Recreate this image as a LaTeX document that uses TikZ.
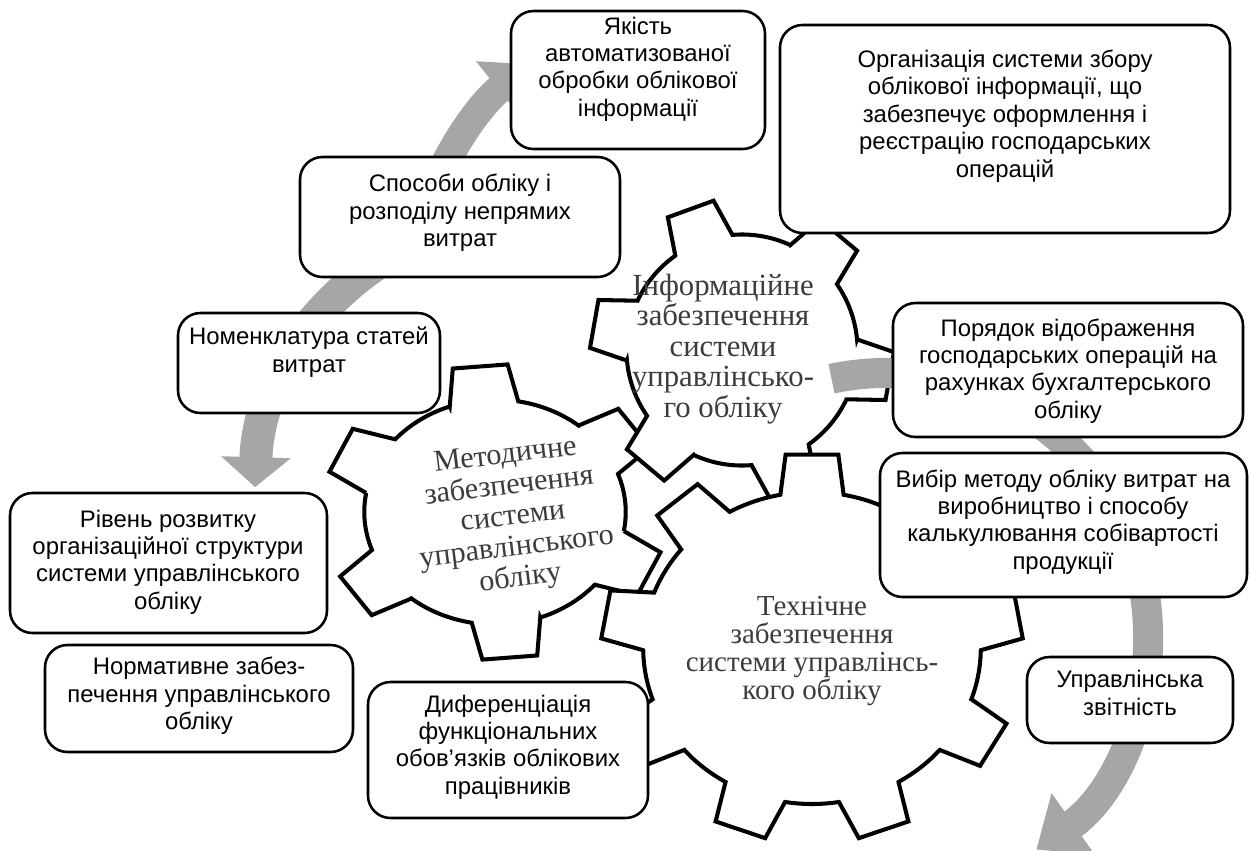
\documentclass[tikz,border=0pt]{standalone}
\usepackage{fontspec}
\setmainfont{Liberation Serif}
\newfontfamily\arialf{Liberation Sans}
\usetikzlibrary{arrows.meta,fit}
\definecolor{arrowgray}{RGB}{166,166,166}
\definecolor{geartextc}{RGB}{60,60,60}
\lineskiplimit=-100pt

% cx, cy, rx, ry, N, phase, root radius, base half-width, tip half-width
\newcommand{\mygear}[9]{%
\begin{scope}[shift={(#1,#2)},xscale=#3,yscale=#4]
\pgfmathsetmacro\gsb{sqrt((#7)^2-(#8)^2)}
\pgfmathsetmacro\gdl{asin((#8)/(#7))}
\pgfmathsetmacro\gst{sqrt(1-(#9)^2)}
\pgfmathsetmacro\gstep{360/#5}
\draw[gear] ({\gsb*cos(#6)+(#8)*sin(#6)},{\gsb*sin(#6)-(#8)*cos(#6)})
 \foreach \k [evaluate=\k as \a using {#6+(\k-1)*\gstep}] in {1,...,#5}{
   -- ({\gsb*cos(\a)+(#8)*sin(\a)},{\gsb*sin(\a)-(#8)*cos(\a)})
   -- ({\gst*cos(\a)+(#9)*sin(\a)},{\gst*sin(\a)-(#9)*cos(\a)})
   -- ({\gst*cos(\a)-(#9)*sin(\a)},{\gst*sin(\a)+(#9)*cos(\a)})
   -- ({\gsb*cos(\a)-(#8)*sin(\a)},{\gsb*sin(\a)+(#8)*cos(\a)})
   arc[start angle={\a+\gdl},end angle={\a+\gstep-\gdl},radius=#7]
 } -- cycle;
\end{scope}}

\begin{document}
\begin{tikzpicture}[x=0.02cm,y=-0.02cm,
  box/.style={draw=black, line width=1.45pt, rounded corners=0.45cm, fill=white, inner sep=0pt},
  boxtext/.style={font=\arialf\fontsize{13.6}{15.6}\selectfont, align=center, inner sep=0pt},
  gear/.style={draw=black, line width=2.3pt, fill=white, line join=miter},
  geartext/.style={align=center, inner sep=0pt, text=geartextc},
  garrow/.style={draw=arrowgray, line cap=butt}]

\useasboundingbox (0,0) rectangle (1249,850);
\fill[white] (0,0) rectangle (1249,850);

% centres of the circular arrows
\coordinate (ctop) at (745,330);
\coordinate (cleft) at (535,495);
\coordinate (cright) at (886,635);

% arrow round the upper gear
\draw[garrow, line width=0.58cm, -{Triangle[length=0.8cm,width=1.4cm]}]
  (ctop) ++(195:342) arc[start angle=195, end angle=231, radius=342];
% arrow round the left gear
\draw[garrow, line width=0.66cm, -{Triangle[length=0.6cm,width=1.36cm]}]
  (cleft) ++(250:280) arc[start angle=250, end angle=181.6, radius=280];

% gears
\mygear{495}{512}{172}{148}{6}{-95}{0.76}{0.2}{0.16}
\node[geartext, rotate=7, font=\fontsize{17.2}{17.6}\selectfont] (gm) at (513,518)
  {Методичне\\забезпечення\\системи\\управлінського\\обліку};

\mygear{742}{350}{152}{152}{6}{-110}{0.76}{0.2}{0.16}
\node[geartext, font=\fontsize{17.5}{17.4}\selectfont] (gi) at (723,349)
  {Інформаційне\\забезпечення\\системи\\управлінсько-\\го обліку};

\mygear{812}{648}{211}{195}{9}{-90}{0.8}{0.15}{0.125}
\node[geartext, font=\fontsize{16.5}{16}\selectfont] (gt) at (812,651)
  {Технічне\\забезпечення\\системи управлінсь-\\кого обліку};

% arrow round the big gear
\draw[garrow, line width=0.6cm, -{Triangle[length=0.9cm,width=1.44cm]}]
  (cright) ++(-102:262) arc[start angle=-102, end angle=55, radius=262];

% boxes
\node[box, fit={(511,11) (765,149)}] (b1) {};
\node[boxtext] (t1) at (638,69) {Якість\\автоматизованої\\обробки облікової\\інформації};

\node[box, fit={(780,25) (1230,233)}] (b2) {};
\node[boxtext] (t2) at (1005,116) {Організація системи збору\\облікової інформації, що\\забезпечує оформлення і\\реєстрацію господарських\\операцій};

\node[box, fit={(300,157) (620,277)}] (b3) {};
\node[boxtext] (t3) at (460,213) {Способи обліку і\\розподілу непрямих\\витрат};

\node[box, fit={(178,313) (440,413)}] (b4) {};
\node[boxtext] (t4) at (309,352) {Номенклатура статей\\витрат};

\node[box, fit={(893,303) (1243,437)}] (b5) {};
\node[boxtext] (t5) at (1068,371) {Порядок відображення\\господарських операцій на\\рахунках бухгалтерського\\обліку};

\node[box, fit={(880,453) (1247,597)}] (b6) {};
\node[boxtext] (t6) at (1063,522) {Вибір методу обліку витрат на\\виробництво і способу\\калькулювання собівартості\\продукції};

\node[box, fit={(1027,657) (1233,743)}] (b7) {};
\node[boxtext] (t7) at (1130,693) {Управлінська\\звітність};

\node[box, fit={(10,493) (327,633)}] (b8) {};
\node[boxtext] (t8) at (168,562) {Рівень розвитку\\організаційної структури\\системи управлінського\\обліку};

\node[box, fit={(45,645) (353,752)}] (b9) {};
\node[boxtext] (t9) at (199,696) {Нормативне забез-\\печення управлінського\\обліку};

\node[box, fit={(368,682) (648,818)}] (b10) {};
\node[boxtext] (t10) at (508,747) {Диференціація\\функціональних\\обов’язків облікових\\працівників};

\end{tikzpicture}
\end{document}
